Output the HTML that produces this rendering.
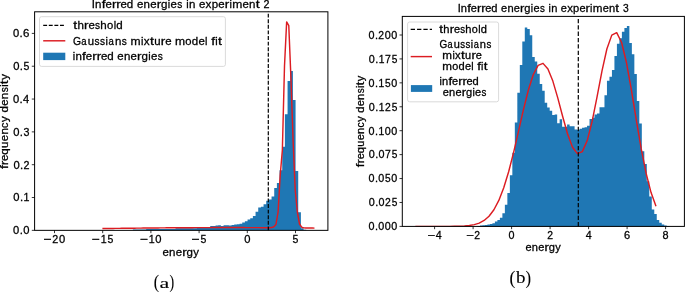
<!DOCTYPE html>
<html><head><meta charset="utf-8"><style>
html,body{margin:0;padding:0;background:#fff;width:685px;height:293px;overflow:hidden}
svg{display:block;will-change:transform}
text{font-family:'Liberation Sans',sans-serif}

</style></head><body>
<svg width="685" height="293" viewBox="0 0 685 293">
<path d="M132.88,230.35 L132.88,229.6 L135.55,229.6 L135.55,229.6 L138.21,229.6 L138.21,229.6 L140.88,229.6 L140.88,229.6 L143.55,229.6 L143.55,229.6 L146.22,229.6 L146.21,229 L148.88,229 L148.88,229 L151.55,229 L151.55,229 L154.22,229 L154.22,229 L156.88,229 L156.88,229 L159.55,229 L159.55,229 L162.22,229 L162.22,229 L164.88,229 L164.88,229 L167.55,229 L167.55,229 L170.22,229 L170.22,229 L172.88,229 L172.88,229 L175.55,229 L175.55,228.3 L178.22,228.3 L178.22,228.3 L180.89,228.3 L180.89,228.3 L183.55,228.3 L183.55,228.3 L186.22,228.3 L186.22,228.3 L188.89,228.3 L188.89,228.3 L191.55,228.3 L191.55,228.3 L194.22,228.3 L194.22,228.3 L196.89,228.3 L196.89,227.5 L199.55,227.5 L199.55,227.5 L202.22,227.5 L202.22,227.5 L204.89,227.5 L204.89,227.5 L207.56,227.5 L207.56,227 L210.22,227 L210.22,225.9 L212.89,225.9 L212.89,225.9 L215.56,225.9 L215.56,225.6 L218.22,225.6 L218.22,225.3 L220.89,225.3 L220.89,225.9 L223.56,225.9 L223.56,225.3 L226.22,225.3 L226.22,225.2 L228.89,225.2 L228.89,225.4 L231.56,225.4 L231.56,225 L234.23,225 L234.23,224.4 L236.89,224.4 L236.89,224.2 L239.56,224.2 L239.56,223.8 L242.23,223.8 L242.23,222.5 L244.89,222.5 L244.89,221.3 L247.56,221.3 L247.56,219.5 L250.23,219.5 L250.23,218.3 L252.89,218.3 L252.89,215.9 L255.56,215.9 L255.56,211.7 L258.23,211.7 L258.23,207.5 L260.9,207.5 L260.9,206.8 L263.56,206.8 L263.56,204.3 L266.23,204.3 L266.23,200.7 L268.9,200.7 L268.9,199.5 L271.56,199.5 L271.56,196.5 L274.23,196.5 L274.23,188 L276.9,188 L276.9,182.9 L279.56,182.9 L279.56,170.2 L282.23,170.2 L282.23,146.7 L284.9,146.7 L284.9,114.2 L287.57,114.2 L287.57,81 L290.23,81 L290.23,70.9 L292.9,70.9 L292.9,100 L295.57,100 L295.57,171.1 L298.23,171.1 L298.23,212.3 L300.9,212.3 L300.9,228.3 L303.57,228.3 L303.57,229.8 L306.23,229.8 L306.23,230.35 Z" fill="#1f77b4"/>
<clipPath id="cl"><rect x="34.6" y="11.8" width="293.3" height="218.55"/></clipPath>
<polyline clip-path="url(#cl)" points="102.4,228.56 104.54,228.53 106.68,228.5 108.83,228.48 110.97,228.45 113.11,228.42 115.25,228.4 117.4,228.37 119.54,228.35 121.68,228.32 123.82,228.29 125.97,228.27 128.11,228.24 130.25,228.22 132.39,228.19 134.54,228.17 136.68,228.14 138.82,228.12 140.96,228.1 143.11,228.07 145.25,228.05 147.39,228.03 149.53,228.01 151.68,227.98 153.82,227.96 155.96,227.94 158.1,227.92 160.24,227.9 162.39,227.88 164.53,227.86 166.67,227.84 168.81,227.83 170.96,227.81 173.1,227.79 175.24,227.77 177.38,227.76 179.53,227.74 181.67,227.73 183.81,227.71 185.95,227.7 188.1,227.69 190.24,227.68 192.38,227.66 194.52,227.65 196.67,227.64 198.81,227.63 200.95,227.62 203.09,227.62 205.24,227.61 207.38,227.6 209.52,227.6 211.66,227.59 213.8,227.59 215.95,227.58 218.09,227.58 220.23,227.58 222.37,227.57 224.52,227.57 226.66,227.57 228.8,227.57 230.94,227.57 233.09,227.58 235.23,227.58 237.37,227.58 239.51,227.58 241.66,227.59 243.8,227.59 245.94,227.6 248.08,227.61 250.23,227.61 252.37,227.62 254.51,227.63 256.65,227.64 258.8,227.65 260.94,227.66 263.08,227.67 265.22,227.69 267.36,227.7 269.51,227.69 271.65,227.56 273.79,226.8 275.93,224.5 278.08,212 280.22,175 282.36,150 284.5,66 286.65,21.9 288.79,25.7 290.93,78 293.07,140 295.22,190 297.36,212 299.5,224 301.64,227.2 303.79,227.9 305.93,228.01 308.07,228.04 310.21,228.07 312.36,228.09 314.5,228.12" fill="none" stroke="#dc1c22" stroke-width="1.45" stroke-linejoin="round" stroke-linecap="butt"/>
<line x1="268.3" y1="230.35" x2="268.3" y2="11.8" stroke="#000" stroke-width="1.2" stroke-dasharray="3.9 1.7"/>
<rect x="34.6" y="11.8" width="293.3" height="218.55" fill="none" stroke="#000" stroke-width="1.0"/>
<line x1="31.8" y1="230.35" x2="34.6" y2="230.35" stroke="#000" stroke-width="0.8"/>
<text x="13.08" y="234.3" font-size="11.08" textLength="6.23" lengthAdjust="spacingAndGlyphs" fill="#000" stroke="#000" stroke-width="0.28">0</text>
<text x="19.67" y="234.3" font-size="11.08" textLength="3.18" lengthAdjust="spacingAndGlyphs" fill="#000" stroke="#000" stroke-width="0.28">.</text>
<text x="23.2" y="234.3" font-size="11.08" textLength="6.23" lengthAdjust="spacingAndGlyphs" fill="#000" stroke="#000" stroke-width="0.28">0</text>
<line x1="31.8" y1="197.52" x2="34.6" y2="197.52" stroke="#000" stroke-width="0.8"/>
<text x="13.35" y="201.47" font-size="11.08" textLength="6.23" lengthAdjust="spacingAndGlyphs" fill="#000" stroke="#000" stroke-width="0.28">0</text>
<text x="19.93" y="201.47" font-size="11.08" textLength="3.18" lengthAdjust="spacingAndGlyphs" fill="#000" stroke="#000" stroke-width="0.28">.</text>
<text x="23.59" y="201.47" font-size="11.08" textLength="5.93" lengthAdjust="spacingAndGlyphs" fill="#000" stroke="#000" stroke-width="0.28">1</text>
<line x1="31.8" y1="164.7" x2="34.6" y2="164.7" stroke="#000" stroke-width="0.8"/>
<text x="13.46" y="168.65" font-size="11.08" textLength="6.23" lengthAdjust="spacingAndGlyphs" fill="#000" stroke="#000" stroke-width="0.28">0</text>
<text x="20.04" y="168.65" font-size="11.08" textLength="3.18" lengthAdjust="spacingAndGlyphs" fill="#000" stroke="#000" stroke-width="0.28">.</text>
<text x="23.56" y="168.65" font-size="11.08" textLength="5.99" lengthAdjust="spacingAndGlyphs" fill="#000" stroke="#000" stroke-width="0.28">2</text>
<line x1="31.8" y1="131.88" x2="34.6" y2="131.88" stroke="#000" stroke-width="0.8"/>
<text x="13.24" y="135.82" font-size="11.08" textLength="6.23" lengthAdjust="spacingAndGlyphs" fill="#000" stroke="#000" stroke-width="0.28">0</text>
<text x="19.83" y="135.82" font-size="11.08" textLength="3.18" lengthAdjust="spacingAndGlyphs" fill="#000" stroke="#000" stroke-width="0.28">.</text>
<text x="23.51" y="135.82" font-size="11.08" textLength="5.96" lengthAdjust="spacingAndGlyphs" fill="#000" stroke="#000" stroke-width="0.28">3</text>
<line x1="31.8" y1="99.05" x2="34.6" y2="99.05" stroke="#000" stroke-width="0.8"/>
<text x="12.98" y="103" font-size="11.08" textLength="6.23" lengthAdjust="spacingAndGlyphs" fill="#000" stroke="#000" stroke-width="0.28">0</text>
<text x="19.56" y="103" font-size="11.08" textLength="3.18" lengthAdjust="spacingAndGlyphs" fill="#000" stroke="#000" stroke-width="0.28">.</text>
<text x="23.13" y="103" font-size="11.08" textLength="6.19" lengthAdjust="spacingAndGlyphs" fill="#000" stroke="#000" stroke-width="0.28">4</text>
<line x1="31.8" y1="66.22" x2="34.6" y2="66.22" stroke="#000" stroke-width="0.8"/>
<text x="13.3" y="70.17" font-size="11.08" textLength="6.23" lengthAdjust="spacingAndGlyphs" fill="#000" stroke="#000" stroke-width="0.28">0</text>
<text x="19.88" y="70.17" font-size="11.08" textLength="3.18" lengthAdjust="spacingAndGlyphs" fill="#000" stroke="#000" stroke-width="0.28">.</text>
<text x="23.57" y="70.17" font-size="11.08" textLength="5.86" lengthAdjust="spacingAndGlyphs" fill="#000" stroke="#000" stroke-width="0.28">5</text>
<line x1="31.8" y1="33.4" x2="34.6" y2="33.4" stroke="#000" stroke-width="0.8"/>
<text x="13.06" y="37.35" font-size="11.08" textLength="6.23" lengthAdjust="spacingAndGlyphs" fill="#000" stroke="#000" stroke-width="0.28">0</text>
<text x="19.64" y="37.35" font-size="11.08" textLength="3.18" lengthAdjust="spacingAndGlyphs" fill="#000" stroke="#000" stroke-width="0.28">.</text>
<text x="23.1" y="37.35" font-size="11.08" textLength="6.41" lengthAdjust="spacingAndGlyphs" fill="#000" stroke="#000" stroke-width="0.28">6</text>
<line x1="54.5" y1="230.35" x2="54.5" y2="233.15" stroke="#000" stroke-width="0.8"/>
<text x="43.54" y="242.8" font-size="11.08" textLength="8.01" lengthAdjust="spacingAndGlyphs" fill="#000" stroke="#000" stroke-width="0.28">−</text>
<text x="52.22" y="242.8" font-size="11.08" textLength="5.99" lengthAdjust="spacingAndGlyphs" fill="#000" stroke="#000" stroke-width="0.28">2</text>
<text x="58.98" y="242.8" font-size="11.08" textLength="6.23" lengthAdjust="spacingAndGlyphs" fill="#000" stroke="#000" stroke-width="0.28">0</text>
<line x1="102.7" y1="230.35" x2="102.7" y2="233.15" stroke="#000" stroke-width="0.8"/>
<text x="91.84" y="242.8" font-size="11.08" textLength="8.01" lengthAdjust="spacingAndGlyphs" fill="#000" stroke="#000" stroke-width="0.28">−</text>
<text x="100.66" y="242.8" font-size="11.08" textLength="5.93" lengthAdjust="spacingAndGlyphs" fill="#000" stroke="#000" stroke-width="0.28">1</text>
<text x="107.44" y="242.8" font-size="11.08" textLength="5.86" lengthAdjust="spacingAndGlyphs" fill="#000" stroke="#000" stroke-width="0.28">5</text>
<line x1="150.9" y1="230.35" x2="150.9" y2="233.15" stroke="#000" stroke-width="0.8"/>
<text x="139.94" y="242.8" font-size="11.08" textLength="8.01" lengthAdjust="spacingAndGlyphs" fill="#000" stroke="#000" stroke-width="0.28">−</text>
<text x="148.76" y="242.8" font-size="11.08" textLength="5.93" lengthAdjust="spacingAndGlyphs" fill="#000" stroke="#000" stroke-width="0.28">1</text>
<text x="155.38" y="242.8" font-size="11.08" textLength="6.23" lengthAdjust="spacingAndGlyphs" fill="#000" stroke="#000" stroke-width="0.28">0</text>
<line x1="199.1" y1="230.35" x2="199.1" y2="233.15" stroke="#000" stroke-width="0.8"/>
<text x="191.61" y="242.8" font-size="11.08" textLength="8.01" lengthAdjust="spacingAndGlyphs" fill="#000" stroke="#000" stroke-width="0.28">−</text>
<text x="200.47" y="242.8" font-size="11.08" textLength="5.86" lengthAdjust="spacingAndGlyphs" fill="#000" stroke="#000" stroke-width="0.28">5</text>
<line x1="247.3" y1="230.35" x2="247.3" y2="233.15" stroke="#000" stroke-width="0.8"/>
<text x="244.18" y="242.8" font-size="11.08" textLength="6.23" lengthAdjust="spacingAndGlyphs" fill="#000" stroke="#000" stroke-width="0.28">0</text>
<line x1="295.5" y1="230.35" x2="295.5" y2="233.15" stroke="#000" stroke-width="0.8"/>
<text x="292.57" y="242.8" font-size="11.08" textLength="5.86" lengthAdjust="spacingAndGlyphs" fill="#000" stroke="#000" stroke-width="0.28">5</text>
<text x="91.81" y="7.7" font-size="11.08" textLength="3.18" lengthAdjust="spacingAndGlyphs" fill="#000" stroke="#000" stroke-width="0.28">I</text>
<text x="95.14" y="7.7" font-size="11.08" textLength="6.42" lengthAdjust="spacingAndGlyphs" fill="#000" stroke="#000" stroke-width="0.28">n</text>
<text x="101.71" y="7.7" font-size="11.08" textLength="3.86" lengthAdjust="spacingAndGlyphs" fill="#000" stroke="#000" stroke-width="0.28">f</text>
<text x="105.51" y="7.7" font-size="11.08" textLength="6.37" lengthAdjust="spacingAndGlyphs" fill="#000" stroke="#000" stroke-width="0.28">e</text>
<text x="111.97" y="7.7" font-size="11.08" textLength="4.52" lengthAdjust="spacingAndGlyphs" fill="#000" stroke="#000" stroke-width="0.28">r</text>
<text x="116.33" y="7.7" font-size="11.08" textLength="4.52" lengthAdjust="spacingAndGlyphs" fill="#000" stroke="#000" stroke-width="0.28">r</text>
<text x="120.56" y="7.7" font-size="11.08" textLength="6.37" lengthAdjust="spacingAndGlyphs" fill="#000" stroke="#000" stroke-width="0.28">e</text>
<text x="126.85" y="7.7" font-size="11.08" textLength="6.42" lengthAdjust="spacingAndGlyphs" fill="#000" stroke="#000" stroke-width="0.28">d</text>
<text x="136.95" y="7.7" font-size="11.08" textLength="6.37" lengthAdjust="spacingAndGlyphs" fill="#000" stroke="#000" stroke-width="0.28">e</text>
<text x="143.55" y="7.7" font-size="11.08" textLength="6.42" lengthAdjust="spacingAndGlyphs" fill="#000" stroke="#000" stroke-width="0.28">n</text>
<text x="150.19" y="7.7" font-size="11.08" textLength="6.37" lengthAdjust="spacingAndGlyphs" fill="#000" stroke="#000" stroke-width="0.28">e</text>
<text x="156.65" y="7.7" font-size="11.08" textLength="4.52" lengthAdjust="spacingAndGlyphs" fill="#000" stroke="#000" stroke-width="0.28">r</text>
<text x="161.06" y="7.7" font-size="11.08" textLength="6.42" lengthAdjust="spacingAndGlyphs" fill="#000" stroke="#000" stroke-width="0.28">g</text>
<text x="167.78" y="7.7" font-size="11.08" textLength="2.42" lengthAdjust="spacingAndGlyphs" fill="#000" stroke="#000" stroke-width="0.28">i</text>
<text x="170.55" y="7.7" font-size="11.08" textLength="6.37" lengthAdjust="spacingAndGlyphs" fill="#000" stroke="#000" stroke-width="0.28">e</text>
<text x="177.28" y="7.7" font-size="11.08" textLength="5.06" lengthAdjust="spacingAndGlyphs" fill="#000" stroke="#000" stroke-width="0.28">s</text>
<text x="186.14" y="7.7" font-size="11.08" textLength="2.42" lengthAdjust="spacingAndGlyphs" fill="#000" stroke="#000" stroke-width="0.28">i</text>
<text x="188.99" y="7.7" font-size="11.08" textLength="6.42" lengthAdjust="spacingAndGlyphs" fill="#000" stroke="#000" stroke-width="0.28">n</text>
<text x="199" y="7.7" font-size="11.08" textLength="6.37" lengthAdjust="spacingAndGlyphs" fill="#000" stroke="#000" stroke-width="0.28">e</text>
<text x="205.6" y="7.7" font-size="11.08" textLength="5.89" lengthAdjust="spacingAndGlyphs" fill="#000" stroke="#000" stroke-width="0.28">x</text>
<text x="211.72" y="7.7" font-size="11.08" textLength="6.42" lengthAdjust="spacingAndGlyphs" fill="#000" stroke="#000" stroke-width="0.28">p</text>
<text x="218.34" y="7.7" font-size="11.08" textLength="6.37" lengthAdjust="spacingAndGlyphs" fill="#000" stroke="#000" stroke-width="0.28">e</text>
<text x="224.8" y="7.7" font-size="11.08" textLength="4.52" lengthAdjust="spacingAndGlyphs" fill="#000" stroke="#000" stroke-width="0.28">r</text>
<text x="229.39" y="7.7" font-size="11.08" textLength="2.42" lengthAdjust="spacingAndGlyphs" fill="#000" stroke="#000" stroke-width="0.28">i</text>
<text x="232.2" y="7.7" font-size="11.08" textLength="10.09" lengthAdjust="spacingAndGlyphs" fill="#000" stroke="#000" stroke-width="0.28">m</text>
<text x="242.49" y="7.7" font-size="11.08" textLength="6.37" lengthAdjust="spacingAndGlyphs" fill="#000" stroke="#000" stroke-width="0.28">e</text>
<text x="249.09" y="7.7" font-size="11.08" textLength="6.42" lengthAdjust="spacingAndGlyphs" fill="#000" stroke="#000" stroke-width="0.28">n</text>
<text x="255.71" y="7.7" font-size="11.08" textLength="3.93" lengthAdjust="spacingAndGlyphs" fill="#000" stroke="#000" stroke-width="0.28">t</text>
<text x="263.39" y="7.7" font-size="11.08" textLength="5.99" lengthAdjust="spacingAndGlyphs" fill="#000" stroke="#000" stroke-width="0.28">2</text>
<text x="162.49" y="255.7" font-size="11.08" textLength="6.37" lengthAdjust="spacingAndGlyphs" fill="#000" stroke="#000" stroke-width="0.28">e</text>
<text x="169.09" y="255.7" font-size="11.08" textLength="6.42" lengthAdjust="spacingAndGlyphs" fill="#000" stroke="#000" stroke-width="0.28">n</text>
<text x="175.73" y="255.7" font-size="11.08" textLength="6.37" lengthAdjust="spacingAndGlyphs" fill="#000" stroke="#000" stroke-width="0.28">e</text>
<text x="182.2" y="255.7" font-size="11.08" textLength="4.52" lengthAdjust="spacingAndGlyphs" fill="#000" stroke="#000" stroke-width="0.28">r</text>
<text x="186.61" y="255.7" font-size="11.08" textLength="6.42" lengthAdjust="spacingAndGlyphs" fill="#000" stroke="#000" stroke-width="0.28">g</text>
<text x="193.35" y="255.7" font-size="11.08" textLength="5.7" lengthAdjust="spacingAndGlyphs" fill="#000" stroke="#000" stroke-width="0.28">y</text>
<g transform="translate(7.8,121.5) rotate(-90)">
<text x="-47.63" y="0" font-size="11.08" textLength="3.86" lengthAdjust="spacingAndGlyphs" fill="#000" stroke="#000" stroke-width="0.28">f</text>
<text x="-43.89" y="0" font-size="11.08" textLength="4.52" lengthAdjust="spacingAndGlyphs" fill="#000" stroke="#000" stroke-width="0.28">r</text>
<text x="-39.48" y="0" font-size="11.08" textLength="6.37" lengthAdjust="spacingAndGlyphs" fill="#000" stroke="#000" stroke-width="0.28">e</text>
<text x="-33.19" y="0" font-size="11.08" textLength="6.42" lengthAdjust="spacingAndGlyphs" fill="#000" stroke="#000" stroke-width="0.28">q</text>
<text x="-26.4" y="0" font-size="11.08" textLength="6.35" lengthAdjust="spacingAndGlyphs" fill="#000" stroke="#000" stroke-width="0.28">u</text>
<text x="-19.74" y="0" font-size="11.08" textLength="6.37" lengthAdjust="spacingAndGlyphs" fill="#000" stroke="#000" stroke-width="0.28">e</text>
<text x="-13.14" y="0" font-size="11.08" textLength="6.42" lengthAdjust="spacingAndGlyphs" fill="#000" stroke="#000" stroke-width="0.28">n</text>
<text x="-6.47" y="0" font-size="11.08" textLength="5.33" lengthAdjust="spacingAndGlyphs" fill="#000" stroke="#000" stroke-width="0.28">c</text>
<text x="-0.48" y="0" font-size="11.08" textLength="5.7" lengthAdjust="spacingAndGlyphs" fill="#000" stroke="#000" stroke-width="0.28">y</text>
<text x="8.96" y="0" font-size="11.08" textLength="6.42" lengthAdjust="spacingAndGlyphs" fill="#000" stroke="#000" stroke-width="0.28">d</text>
<text x="15.7" y="0" font-size="11.08" textLength="6.37" lengthAdjust="spacingAndGlyphs" fill="#000" stroke="#000" stroke-width="0.28">e</text>
<text x="22.3" y="0" font-size="11.08" textLength="6.42" lengthAdjust="spacingAndGlyphs" fill="#000" stroke="#000" stroke-width="0.28">n</text>
<text x="29.14" y="0" font-size="11.08" textLength="5.06" lengthAdjust="spacingAndGlyphs" fill="#000" stroke="#000" stroke-width="0.28">s</text>
<text x="34.63" y="0" font-size="11.08" textLength="2.42" lengthAdjust="spacingAndGlyphs" fill="#000" stroke="#000" stroke-width="0.28">i</text>
<text x="37.39" y="0" font-size="11.08" textLength="3.93" lengthAdjust="spacingAndGlyphs" fill="#000" stroke="#000" stroke-width="0.28">t</text>
<text x="41.75" y="0" font-size="11.08" textLength="5.7" lengthAdjust="spacingAndGlyphs" fill="#000" stroke="#000" stroke-width="0.28">y</text>
</g>
<rect x="39.5" y="16.7" width="185.9" height="49.7" rx="2" ry="2" fill="#fff" fill-opacity="0.8" stroke="#d0d0d0" stroke-width="0.8"/>
<line x1="43.2" y1="25.4" x2="65.3" y2="25.4" stroke="#000" stroke-width="1.2" stroke-dasharray="3.9 1.7"/>
<line x1="43.2" y1="40.8" x2="65.3" y2="40.8" stroke="#dc1c22" stroke-width="1.45"/>
<rect x="43.2" y="52.7" width="22.1" height="7.4" fill="#1f77b4"/>
<text x="73.19" y="29.2" font-size="11.08" textLength="3.93" lengthAdjust="spacingAndGlyphs" fill="#000" stroke="#000" stroke-width="0.28">t</text>
<text x="77.41" y="29.2" font-size="11.08" textLength="6.46" lengthAdjust="spacingAndGlyphs" fill="#000" stroke="#000" stroke-width="0.28">h</text>
<text x="84.02" y="29.2" font-size="11.08" textLength="4.52" lengthAdjust="spacingAndGlyphs" fill="#000" stroke="#000" stroke-width="0.28">r</text>
<text x="88.44" y="29.2" font-size="11.08" textLength="6.37" lengthAdjust="spacingAndGlyphs" fill="#000" stroke="#000" stroke-width="0.28">e</text>
<text x="94.93" y="29.2" font-size="11.08" textLength="5.06" lengthAdjust="spacingAndGlyphs" fill="#000" stroke="#000" stroke-width="0.28">s</text>
<text x="100.29" y="29.2" font-size="11.08" textLength="6.46" lengthAdjust="spacingAndGlyphs" fill="#000" stroke="#000" stroke-width="0.28">h</text>
<text x="106.97" y="29.2" font-size="11.08" textLength="6.27" lengthAdjust="spacingAndGlyphs" fill="#000" stroke="#000" stroke-width="0.28">o</text>
<text x="113.63" y="29.2" font-size="11.08" textLength="2.42" lengthAdjust="spacingAndGlyphs" fill="#000" stroke="#000" stroke-width="0.28">l</text>
<text x="116.39" y="29.2" font-size="11.08" textLength="6.42" lengthAdjust="spacingAndGlyphs" fill="#000" stroke="#000" stroke-width="0.28">d</text>
<text x="72.88" y="44.6" font-size="11.08" textLength="8.06" lengthAdjust="spacingAndGlyphs" fill="#000" stroke="#000" stroke-width="0.28">G</text>
<text x="81.26" y="44.6" font-size="11.08" textLength="5.32" lengthAdjust="spacingAndGlyphs" fill="#000" stroke="#000" stroke-width="0.28">a</text>
<text x="87.69" y="44.6" font-size="11.08" textLength="6.35" lengthAdjust="spacingAndGlyphs" fill="#000" stroke="#000" stroke-width="0.28">u</text>
<text x="94.55" y="44.6" font-size="11.08" textLength="5.06" lengthAdjust="spacingAndGlyphs" fill="#000" stroke="#000" stroke-width="0.28">s</text>
<text x="100.07" y="44.6" font-size="11.08" textLength="5.06" lengthAdjust="spacingAndGlyphs" fill="#000" stroke="#000" stroke-width="0.28">s</text>
<text x="105.56" y="44.6" font-size="11.08" textLength="2.42" lengthAdjust="spacingAndGlyphs" fill="#000" stroke="#000" stroke-width="0.28">i</text>
<text x="108.47" y="44.6" font-size="11.08" textLength="5.32" lengthAdjust="spacingAndGlyphs" fill="#000" stroke="#000" stroke-width="0.28">a</text>
<text x="114.91" y="44.6" font-size="11.08" textLength="6.42" lengthAdjust="spacingAndGlyphs" fill="#000" stroke="#000" stroke-width="0.28">n</text>
<text x="121.75" y="44.6" font-size="11.08" textLength="5.06" lengthAdjust="spacingAndGlyphs" fill="#000" stroke="#000" stroke-width="0.28">s</text>
<text x="130.48" y="44.6" font-size="11.08" textLength="10.09" lengthAdjust="spacingAndGlyphs" fill="#000" stroke="#000" stroke-width="0.28">m</text>
<text x="140.94" y="44.6" font-size="11.08" textLength="2.42" lengthAdjust="spacingAndGlyphs" fill="#000" stroke="#000" stroke-width="0.28">i</text>
<text x="143.78" y="44.6" font-size="11.08" textLength="5.89" lengthAdjust="spacingAndGlyphs" fill="#000" stroke="#000" stroke-width="0.28">x</text>
<text x="149.97" y="44.6" font-size="11.08" textLength="3.93" lengthAdjust="spacingAndGlyphs" fill="#000" stroke="#000" stroke-width="0.28">t</text>
<text x="154.2" y="44.6" font-size="11.08" textLength="6.35" lengthAdjust="spacingAndGlyphs" fill="#000" stroke="#000" stroke-width="0.28">u</text>
<text x="160.8" y="44.6" font-size="11.08" textLength="4.52" lengthAdjust="spacingAndGlyphs" fill="#000" stroke="#000" stroke-width="0.28">r</text>
<text x="165.22" y="44.6" font-size="11.08" textLength="6.37" lengthAdjust="spacingAndGlyphs" fill="#000" stroke="#000" stroke-width="0.28">e</text>
<text x="174.91" y="44.6" font-size="11.08" textLength="10.09" lengthAdjust="spacingAndGlyphs" fill="#000" stroke="#000" stroke-width="0.28">m</text>
<text x="185.21" y="44.6" font-size="11.08" textLength="6.27" lengthAdjust="spacingAndGlyphs" fill="#000" stroke="#000" stroke-width="0.28">o</text>
<text x="191.68" y="44.6" font-size="11.08" textLength="6.42" lengthAdjust="spacingAndGlyphs" fill="#000" stroke="#000" stroke-width="0.28">d</text>
<text x="198.41" y="44.6" font-size="11.08" textLength="6.37" lengthAdjust="spacingAndGlyphs" fill="#000" stroke="#000" stroke-width="0.28">e</text>
<text x="205.11" y="44.6" font-size="11.08" textLength="2.42" lengthAdjust="spacingAndGlyphs" fill="#000" stroke="#000" stroke-width="0.28">l</text>
<text x="211.18" y="44.6" font-size="11.08" textLength="3.86" lengthAdjust="spacingAndGlyphs" fill="#000" stroke="#000" stroke-width="0.28">f</text>
<text x="215.16" y="44.6" font-size="11.08" textLength="2.42" lengthAdjust="spacingAndGlyphs" fill="#000" stroke="#000" stroke-width="0.28">i</text>
<text x="217.91" y="44.6" font-size="11.08" textLength="3.93" lengthAdjust="spacingAndGlyphs" fill="#000" stroke="#000" stroke-width="0.28">t</text>
<text x="72.66" y="59.6" font-size="11.08" textLength="2.42" lengthAdjust="spacingAndGlyphs" fill="#000" stroke="#000" stroke-width="0.28">i</text>
<text x="75.51" y="59.6" font-size="11.08" textLength="6.42" lengthAdjust="spacingAndGlyphs" fill="#000" stroke="#000" stroke-width="0.28">n</text>
<text x="82.09" y="59.6" font-size="11.08" textLength="3.86" lengthAdjust="spacingAndGlyphs" fill="#000" stroke="#000" stroke-width="0.28">f</text>
<text x="85.88" y="59.6" font-size="11.08" textLength="6.37" lengthAdjust="spacingAndGlyphs" fill="#000" stroke="#000" stroke-width="0.28">e</text>
<text x="92.35" y="59.6" font-size="11.08" textLength="4.52" lengthAdjust="spacingAndGlyphs" fill="#000" stroke="#000" stroke-width="0.28">r</text>
<text x="96.71" y="59.6" font-size="11.08" textLength="4.52" lengthAdjust="spacingAndGlyphs" fill="#000" stroke="#000" stroke-width="0.28">r</text>
<text x="100.94" y="59.6" font-size="11.08" textLength="6.37" lengthAdjust="spacingAndGlyphs" fill="#000" stroke="#000" stroke-width="0.28">e</text>
<text x="107.22" y="59.6" font-size="11.08" textLength="6.42" lengthAdjust="spacingAndGlyphs" fill="#000" stroke="#000" stroke-width="0.28">d</text>
<text x="117.32" y="59.6" font-size="11.08" textLength="6.37" lengthAdjust="spacingAndGlyphs" fill="#000" stroke="#000" stroke-width="0.28">e</text>
<text x="123.92" y="59.6" font-size="11.08" textLength="6.42" lengthAdjust="spacingAndGlyphs" fill="#000" stroke="#000" stroke-width="0.28">n</text>
<text x="130.56" y="59.6" font-size="11.08" textLength="6.37" lengthAdjust="spacingAndGlyphs" fill="#000" stroke="#000" stroke-width="0.28">e</text>
<text x="137.03" y="59.6" font-size="11.08" textLength="4.52" lengthAdjust="spacingAndGlyphs" fill="#000" stroke="#000" stroke-width="0.28">r</text>
<text x="141.44" y="59.6" font-size="11.08" textLength="6.42" lengthAdjust="spacingAndGlyphs" fill="#000" stroke="#000" stroke-width="0.28">g</text>
<text x="148.16" y="59.6" font-size="11.08" textLength="2.42" lengthAdjust="spacingAndGlyphs" fill="#000" stroke="#000" stroke-width="0.28">i</text>
<text x="150.93" y="59.6" font-size="11.08" textLength="6.37" lengthAdjust="spacingAndGlyphs" fill="#000" stroke="#000" stroke-width="0.28">e</text>
<text x="157.66" y="59.6" font-size="11.08" textLength="5.06" lengthAdjust="spacingAndGlyphs" fill="#000" stroke="#000" stroke-width="0.28">s</text>
<path d="M477.48,226.4 L477.48,226 L479.97,226 L479.97,225.6 L482.46,225.6 L482.46,225.3 L484.95,225.3 L484.95,224.9 L487.44,224.9 L487.44,224.4 L489.93,224.4 L489.93,223.9 L492.42,223.9 L492.42,223.2 L494.91,223.2 L494.91,221.5 L497.4,221.5 L497.4,220.1 L499.89,220.1 L499.89,217.7 L502.38,217.7 L502.38,213.2 L504.87,213.2 L504.87,204.7 L507.36,204.7 L507.36,193 L509.85,193 L509.85,175.3 L512.34,175.3 L512.34,152.7 L514.83,152.7 L514.83,122.6 L517.32,122.6 L517.32,92.7 L519.81,92.7 L519.81,64.9 L522.3,64.9 L522.3,41.4 L524.79,41.4 L524.79,27.6 L527.28,27.6 L527.28,29.1 L529.77,29.1 L529.77,35.3 L532.26,35.3 L532.26,57 L534.75,57 L534.75,61.6 L537.24,61.6 L537.24,73.7 L539.73,73.7 L539.73,83.9 L542.22,83.9 L542.22,90.8 L544.71,90.8 L544.71,102.8 L547.2,102.8 L547.2,107.5 L549.69,107.5 L549.69,110.7 L552.18,110.7 L552.18,115 L554.67,115 L554.67,114.4 L557.16,114.4 L557.16,123.2 L559.65,123.2 L559.65,119.2 L562.14,119.2 L562.14,126.7 L564.63,126.7 L564.63,126.7 L567.12,126.7 L567.12,124.4 L569.61,124.4 L569.61,126.3 L572.1,126.3 L572.1,126.3 L574.59,126.3 L574.59,129.6 L577.08,129.6 L577.08,129.7 L579.57,129.7 L579.57,128.7 L582.06,128.7 L582.06,127.8 L584.55,127.8 L584.55,127.3 L587.04,127.3 L587.04,125.7 L589.53,125.7 L589.53,119.1 L592.02,119.1 L592.02,117.7 L594.51,117.7 L594.51,114.4 L597,114.4 L597,113.4 L599.49,113.4 L599.49,107.3 L601.98,107.3 L601.98,107.3 L604.47,107.3 L604.47,95.2 L606.96,95.2 L606.96,80.8 L609.45,80.8 L609.45,76.7 L611.94,76.7 L611.94,70 L614.43,70 L614.43,56.1 L616.92,56.1 L616.92,43.8 L619.41,43.8 L619.41,38.3 L621.9,38.3 L621.9,31.8 L624.39,31.8 L624.39,28.1 L626.88,28.1 L626.88,26 L629.37,26 L629.37,43.1 L631.86,43.1 L631.86,54.2 L634.35,54.2 L634.35,73.9 L636.84,73.9 L636.84,101 L639.33,101 L639.33,123.5 L641.82,123.5 L641.82,151.3 L644.31,151.3 L644.31,164 L646.8,164 L646.8,181.2 L649.29,181.2 L649.29,196.5 L651.78,196.5 L651.78,209.5 L654.27,209.5 L654.27,214.1 L656.76,214.1 L656.76,219.9 L659.25,219.9 L659.25,222.8 L661.74,222.8 L661.74,224.5 L664.23,224.5 L664.23,225.4 L666.72,225.4 L666.72,226 L669.21,226 L669.21,226.4 Z" fill="#1f77b4"/>
<clipPath id="cr"><rect x="402.3" y="16.4" width="282.1" height="210"/></clipPath>
<polyline clip-path="url(#cr)" points="415.35,226.4 420.26,226.4 425.17,226.4 430.08,226.4 434.99,226.4 439.9,226.39 444.81,226.39 449.73,226.36 454.64,226.32 459.55,226.21 464.46,225.98 469.37,225.52 474.28,224.65 479.19,223.1 484.1,220.46 489.01,216.2 493.92,209.72 498.83,200.4 503.74,187.77 508.65,171.7 513.56,152.56 518.48,131.41 523.39,109.92 528.3,90.27 533.21,74.76 538.12,65.37 543.03,63.36 547.94,68.92 552.85,81.09 557.76,97.85 562.67,116.49 567.58,133.94 572.49,147.19 577.4,153.67 582.31,151.65 587.23,140.56 592.14,121.42 597.05,96.88 601.96,71.09 606.87,48.98 611.78,35.13 616.69,32.69 621.6,42.46 626.51,62.79 631.42,90.15 636.33,120.18 641.24,148.89 646.15,173.46 651.06,192.56 655.98,206.15" fill="none" stroke="#dc1c22" stroke-width="1.45" stroke-linejoin="round"/>
<line x1="578.3" y1="226.4" x2="578.3" y2="16.4" stroke="#000" stroke-width="1.2" stroke-dasharray="4.3 2.05"/>
<rect x="402.3" y="16.4" width="282.1" height="210" fill="none" stroke="#000" stroke-width="1.0"/>
<line x1="399.5" y1="226.4" x2="402.3" y2="226.4" stroke="#000" stroke-width="0.8"/>
<text x="368.61" y="230.2" font-size="10.66" textLength="6" lengthAdjust="spacingAndGlyphs" fill="#000" stroke="#000" stroke-width="0.28">0</text>
<text x="374.94" y="230.2" font-size="10.66" textLength="3.06" lengthAdjust="spacingAndGlyphs" fill="#000" stroke="#000" stroke-width="0.28">.</text>
<text x="378.34" y="230.2" font-size="10.66" textLength="6" lengthAdjust="spacingAndGlyphs" fill="#000" stroke="#000" stroke-width="0.28">0</text>
<text x="384.83" y="230.2" font-size="10.66" textLength="6" lengthAdjust="spacingAndGlyphs" fill="#000" stroke="#000" stroke-width="0.28">0</text>
<text x="391.32" y="230.2" font-size="10.66" textLength="6" lengthAdjust="spacingAndGlyphs" fill="#000" stroke="#000" stroke-width="0.28">0</text>
<line x1="399.5" y1="202.47" x2="402.3" y2="202.47" stroke="#000" stroke-width="0.8"/>
<text x="368.81" y="206.28" font-size="10.66" textLength="6" lengthAdjust="spacingAndGlyphs" fill="#000" stroke="#000" stroke-width="0.28">0</text>
<text x="375.15" y="206.28" font-size="10.66" textLength="3.06" lengthAdjust="spacingAndGlyphs" fill="#000" stroke="#000" stroke-width="0.28">.</text>
<text x="378.54" y="206.28" font-size="10.66" textLength="6" lengthAdjust="spacingAndGlyphs" fill="#000" stroke="#000" stroke-width="0.28">0</text>
<text x="385.02" y="206.28" font-size="10.66" textLength="5.77" lengthAdjust="spacingAndGlyphs" fill="#000" stroke="#000" stroke-width="0.28">2</text>
<text x="391.67" y="206.28" font-size="10.66" textLength="5.64" lengthAdjust="spacingAndGlyphs" fill="#000" stroke="#000" stroke-width="0.28">5</text>
<line x1="399.5" y1="178.55" x2="402.3" y2="178.55" stroke="#000" stroke-width="0.8"/>
<text x="368.61" y="182.35" font-size="10.66" textLength="6" lengthAdjust="spacingAndGlyphs" fill="#000" stroke="#000" stroke-width="0.28">0</text>
<text x="374.94" y="182.35" font-size="10.66" textLength="3.06" lengthAdjust="spacingAndGlyphs" fill="#000" stroke="#000" stroke-width="0.28">.</text>
<text x="378.34" y="182.35" font-size="10.66" textLength="6" lengthAdjust="spacingAndGlyphs" fill="#000" stroke="#000" stroke-width="0.28">0</text>
<text x="384.98" y="182.35" font-size="10.66" textLength="5.64" lengthAdjust="spacingAndGlyphs" fill="#000" stroke="#000" stroke-width="0.28">5</text>
<text x="391.32" y="182.35" font-size="10.66" textLength="6" lengthAdjust="spacingAndGlyphs" fill="#000" stroke="#000" stroke-width="0.28">0</text>
<line x1="399.5" y1="154.62" x2="402.3" y2="154.62" stroke="#000" stroke-width="0.8"/>
<text x="368.81" y="158.43" font-size="10.66" textLength="6" lengthAdjust="spacingAndGlyphs" fill="#000" stroke="#000" stroke-width="0.28">0</text>
<text x="375.15" y="158.43" font-size="10.66" textLength="3.06" lengthAdjust="spacingAndGlyphs" fill="#000" stroke="#000" stroke-width="0.28">.</text>
<text x="378.54" y="158.43" font-size="10.66" textLength="6" lengthAdjust="spacingAndGlyphs" fill="#000" stroke="#000" stroke-width="0.28">0</text>
<text x="385.09" y="158.43" font-size="10.66" textLength="5.86" lengthAdjust="spacingAndGlyphs" fill="#000" stroke="#000" stroke-width="0.28">7</text>
<text x="391.67" y="158.43" font-size="10.66" textLength="5.64" lengthAdjust="spacingAndGlyphs" fill="#000" stroke="#000" stroke-width="0.28">5</text>
<line x1="399.5" y1="130.7" x2="402.3" y2="130.7" stroke="#000" stroke-width="0.8"/>
<text x="368.61" y="134.5" font-size="10.66" textLength="6" lengthAdjust="spacingAndGlyphs" fill="#000" stroke="#000" stroke-width="0.28">0</text>
<text x="374.94" y="134.5" font-size="10.66" textLength="3.06" lengthAdjust="spacingAndGlyphs" fill="#000" stroke="#000" stroke-width="0.28">.</text>
<text x="378.46" y="134.5" font-size="10.66" textLength="5.71" lengthAdjust="spacingAndGlyphs" fill="#000" stroke="#000" stroke-width="0.28">1</text>
<text x="384.83" y="134.5" font-size="10.66" textLength="6" lengthAdjust="spacingAndGlyphs" fill="#000" stroke="#000" stroke-width="0.28">0</text>
<text x="391.32" y="134.5" font-size="10.66" textLength="6" lengthAdjust="spacingAndGlyphs" fill="#000" stroke="#000" stroke-width="0.28">0</text>
<line x1="399.5" y1="106.78" x2="402.3" y2="106.78" stroke="#000" stroke-width="0.8"/>
<text x="368.81" y="110.58" font-size="10.66" textLength="6" lengthAdjust="spacingAndGlyphs" fill="#000" stroke="#000" stroke-width="0.28">0</text>
<text x="375.15" y="110.58" font-size="10.66" textLength="3.06" lengthAdjust="spacingAndGlyphs" fill="#000" stroke="#000" stroke-width="0.28">.</text>
<text x="378.66" y="110.58" font-size="10.66" textLength="5.71" lengthAdjust="spacingAndGlyphs" fill="#000" stroke="#000" stroke-width="0.28">1</text>
<text x="385.02" y="110.58" font-size="10.66" textLength="5.77" lengthAdjust="spacingAndGlyphs" fill="#000" stroke="#000" stroke-width="0.28">2</text>
<text x="391.67" y="110.58" font-size="10.66" textLength="5.64" lengthAdjust="spacingAndGlyphs" fill="#000" stroke="#000" stroke-width="0.28">5</text>
<line x1="399.5" y1="82.85" x2="402.3" y2="82.85" stroke="#000" stroke-width="0.8"/>
<text x="368.61" y="86.65" font-size="10.66" textLength="6" lengthAdjust="spacingAndGlyphs" fill="#000" stroke="#000" stroke-width="0.28">0</text>
<text x="374.94" y="86.65" font-size="10.66" textLength="3.06" lengthAdjust="spacingAndGlyphs" fill="#000" stroke="#000" stroke-width="0.28">.</text>
<text x="378.46" y="86.65" font-size="10.66" textLength="5.71" lengthAdjust="spacingAndGlyphs" fill="#000" stroke="#000" stroke-width="0.28">1</text>
<text x="384.98" y="86.65" font-size="10.66" textLength="5.64" lengthAdjust="spacingAndGlyphs" fill="#000" stroke="#000" stroke-width="0.28">5</text>
<text x="391.32" y="86.65" font-size="10.66" textLength="6" lengthAdjust="spacingAndGlyphs" fill="#000" stroke="#000" stroke-width="0.28">0</text>
<line x1="399.5" y1="58.92" x2="402.3" y2="58.92" stroke="#000" stroke-width="0.8"/>
<text x="368.81" y="62.72" font-size="10.66" textLength="6" lengthAdjust="spacingAndGlyphs" fill="#000" stroke="#000" stroke-width="0.28">0</text>
<text x="375.15" y="62.72" font-size="10.66" textLength="3.06" lengthAdjust="spacingAndGlyphs" fill="#000" stroke="#000" stroke-width="0.28">.</text>
<text x="378.66" y="62.72" font-size="10.66" textLength="5.71" lengthAdjust="spacingAndGlyphs" fill="#000" stroke="#000" stroke-width="0.28">1</text>
<text x="385.09" y="62.72" font-size="10.66" textLength="5.86" lengthAdjust="spacingAndGlyphs" fill="#000" stroke="#000" stroke-width="0.28">7</text>
<text x="391.67" y="62.72" font-size="10.66" textLength="5.64" lengthAdjust="spacingAndGlyphs" fill="#000" stroke="#000" stroke-width="0.28">5</text>
<line x1="399.5" y1="35" x2="402.3" y2="35" stroke="#000" stroke-width="0.8"/>
<text x="368.61" y="38.8" font-size="10.66" textLength="6" lengthAdjust="spacingAndGlyphs" fill="#000" stroke="#000" stroke-width="0.28">0</text>
<text x="374.94" y="38.8" font-size="10.66" textLength="3.06" lengthAdjust="spacingAndGlyphs" fill="#000" stroke="#000" stroke-width="0.28">.</text>
<text x="378.33" y="38.8" font-size="10.66" textLength="5.77" lengthAdjust="spacingAndGlyphs" fill="#000" stroke="#000" stroke-width="0.28">2</text>
<text x="384.83" y="38.8" font-size="10.66" textLength="6" lengthAdjust="spacingAndGlyphs" fill="#000" stroke="#000" stroke-width="0.28">0</text>
<text x="391.32" y="38.8" font-size="10.66" textLength="6" lengthAdjust="spacingAndGlyphs" fill="#000" stroke="#000" stroke-width="0.28">0</text>
<line x1="434.6" y1="226.4" x2="434.6" y2="229.2" stroke="#000" stroke-width="0.8"/>
<text x="427.24" y="238.6" font-size="10.66" textLength="7.71" lengthAdjust="spacingAndGlyphs" fill="#000" stroke="#000" stroke-width="0.28">−</text>
<text x="435.65" y="238.6" font-size="10.66" textLength="5.95" lengthAdjust="spacingAndGlyphs" fill="#000" stroke="#000" stroke-width="0.28">4</text>
<line x1="473.1" y1="226.4" x2="473.1" y2="229.2" stroke="#000" stroke-width="0.8"/>
<text x="465.97" y="238.6" font-size="10.66" textLength="7.71" lengthAdjust="spacingAndGlyphs" fill="#000" stroke="#000" stroke-width="0.28">−</text>
<text x="474.33" y="238.6" font-size="10.66" textLength="5.77" lengthAdjust="spacingAndGlyphs" fill="#000" stroke="#000" stroke-width="0.28">2</text>
<line x1="511.6" y1="226.4" x2="511.6" y2="229.2" stroke="#000" stroke-width="0.8"/>
<text x="508.59" y="238.6" font-size="10.66" textLength="6" lengthAdjust="spacingAndGlyphs" fill="#000" stroke="#000" stroke-width="0.28">0</text>
<line x1="550.1" y1="226.4" x2="550.1" y2="229.2" stroke="#000" stroke-width="0.8"/>
<text x="547.22" y="238.6" font-size="10.66" textLength="5.77" lengthAdjust="spacingAndGlyphs" fill="#000" stroke="#000" stroke-width="0.28">2</text>
<line x1="588.6" y1="226.4" x2="588.6" y2="229.2" stroke="#000" stroke-width="0.8"/>
<text x="585.66" y="238.6" font-size="10.66" textLength="5.95" lengthAdjust="spacingAndGlyphs" fill="#000" stroke="#000" stroke-width="0.28">4</text>
<line x1="627.1" y1="226.4" x2="627.1" y2="229.2" stroke="#000" stroke-width="0.8"/>
<text x="623.98" y="238.6" font-size="10.66" textLength="6.16" lengthAdjust="spacingAndGlyphs" fill="#000" stroke="#000" stroke-width="0.28">6</text>
<line x1="665.6" y1="226.4" x2="665.6" y2="229.2" stroke="#000" stroke-width="0.8"/>
<text x="662.59" y="238.6" font-size="10.66" textLength="6.04" lengthAdjust="spacingAndGlyphs" fill="#000" stroke="#000" stroke-width="0.28">8</text>
<text x="457.67" y="12.3" font-size="10.66" textLength="3.06" lengthAdjust="spacingAndGlyphs" fill="#000" stroke="#000" stroke-width="0.28">I</text>
<text x="460.87" y="12.3" font-size="10.66" textLength="6.18" lengthAdjust="spacingAndGlyphs" fill="#000" stroke="#000" stroke-width="0.28">n</text>
<text x="467.2" y="12.3" font-size="10.66" textLength="3.72" lengthAdjust="spacingAndGlyphs" fill="#000" stroke="#000" stroke-width="0.28">f</text>
<text x="470.85" y="12.3" font-size="10.66" textLength="6.13" lengthAdjust="spacingAndGlyphs" fill="#000" stroke="#000" stroke-width="0.28">e</text>
<text x="477.07" y="12.3" font-size="10.66" textLength="4.35" lengthAdjust="spacingAndGlyphs" fill="#000" stroke="#000" stroke-width="0.28">r</text>
<text x="481.26" y="12.3" font-size="10.66" textLength="4.35" lengthAdjust="spacingAndGlyphs" fill="#000" stroke="#000" stroke-width="0.28">r</text>
<text x="485.33" y="12.3" font-size="10.66" textLength="6.13" lengthAdjust="spacingAndGlyphs" fill="#000" stroke="#000" stroke-width="0.28">e</text>
<text x="491.38" y="12.3" font-size="10.66" textLength="6.18" lengthAdjust="spacingAndGlyphs" fill="#000" stroke="#000" stroke-width="0.28">d</text>
<text x="501.1" y="12.3" font-size="10.66" textLength="6.13" lengthAdjust="spacingAndGlyphs" fill="#000" stroke="#000" stroke-width="0.28">e</text>
<text x="507.45" y="12.3" font-size="10.66" textLength="6.18" lengthAdjust="spacingAndGlyphs" fill="#000" stroke="#000" stroke-width="0.28">n</text>
<text x="513.84" y="12.3" font-size="10.66" textLength="6.13" lengthAdjust="spacingAndGlyphs" fill="#000" stroke="#000" stroke-width="0.28">e</text>
<text x="520.06" y="12.3" font-size="10.66" textLength="4.35" lengthAdjust="spacingAndGlyphs" fill="#000" stroke="#000" stroke-width="0.28">r</text>
<text x="524.31" y="12.3" font-size="10.66" textLength="6.18" lengthAdjust="spacingAndGlyphs" fill="#000" stroke="#000" stroke-width="0.28">g</text>
<text x="530.78" y="12.3" font-size="10.66" textLength="2.33" lengthAdjust="spacingAndGlyphs" fill="#000" stroke="#000" stroke-width="0.28">i</text>
<text x="533.44" y="12.3" font-size="10.66" textLength="6.13" lengthAdjust="spacingAndGlyphs" fill="#000" stroke="#000" stroke-width="0.28">e</text>
<text x="539.92" y="12.3" font-size="10.66" textLength="4.87" lengthAdjust="spacingAndGlyphs" fill="#000" stroke="#000" stroke-width="0.28">s</text>
<text x="548.44" y="12.3" font-size="10.66" textLength="2.33" lengthAdjust="spacingAndGlyphs" fill="#000" stroke="#000" stroke-width="0.28">i</text>
<text x="551.18" y="12.3" font-size="10.66" textLength="6.18" lengthAdjust="spacingAndGlyphs" fill="#000" stroke="#000" stroke-width="0.28">n</text>
<text x="560.81" y="12.3" font-size="10.66" textLength="6.13" lengthAdjust="spacingAndGlyphs" fill="#000" stroke="#000" stroke-width="0.28">e</text>
<text x="567.16" y="12.3" font-size="10.66" textLength="5.66" lengthAdjust="spacingAndGlyphs" fill="#000" stroke="#000" stroke-width="0.28">x</text>
<text x="573.05" y="12.3" font-size="10.66" textLength="6.18" lengthAdjust="spacingAndGlyphs" fill="#000" stroke="#000" stroke-width="0.28">p</text>
<text x="579.42" y="12.3" font-size="10.66" textLength="6.13" lengthAdjust="spacingAndGlyphs" fill="#000" stroke="#000" stroke-width="0.28">e</text>
<text x="585.64" y="12.3" font-size="10.66" textLength="4.35" lengthAdjust="spacingAndGlyphs" fill="#000" stroke="#000" stroke-width="0.28">r</text>
<text x="590.06" y="12.3" font-size="10.66" textLength="2.33" lengthAdjust="spacingAndGlyphs" fill="#000" stroke="#000" stroke-width="0.28">i</text>
<text x="592.76" y="12.3" font-size="10.66" textLength="9.71" lengthAdjust="spacingAndGlyphs" fill="#000" stroke="#000" stroke-width="0.28">m</text>
<text x="602.66" y="12.3" font-size="10.66" textLength="6.13" lengthAdjust="spacingAndGlyphs" fill="#000" stroke="#000" stroke-width="0.28">e</text>
<text x="609.01" y="12.3" font-size="10.66" textLength="6.18" lengthAdjust="spacingAndGlyphs" fill="#000" stroke="#000" stroke-width="0.28">n</text>
<text x="615.38" y="12.3" font-size="10.66" textLength="3.78" lengthAdjust="spacingAndGlyphs" fill="#000" stroke="#000" stroke-width="0.28">t</text>
<text x="622.93" y="12.3" font-size="10.66" textLength="5.73" lengthAdjust="spacingAndGlyphs" fill="#000" stroke="#000" stroke-width="0.28">3</text>
<text x="525.49" y="251" font-size="10.66" textLength="6.13" lengthAdjust="spacingAndGlyphs" fill="#000" stroke="#000" stroke-width="0.28">e</text>
<text x="531.84" y="251" font-size="10.66" textLength="6.18" lengthAdjust="spacingAndGlyphs" fill="#000" stroke="#000" stroke-width="0.28">n</text>
<text x="538.23" y="251" font-size="10.66" textLength="6.13" lengthAdjust="spacingAndGlyphs" fill="#000" stroke="#000" stroke-width="0.28">e</text>
<text x="544.45" y="251" font-size="10.66" textLength="4.35" lengthAdjust="spacingAndGlyphs" fill="#000" stroke="#000" stroke-width="0.28">r</text>
<text x="548.7" y="251" font-size="10.66" textLength="6.18" lengthAdjust="spacingAndGlyphs" fill="#000" stroke="#000" stroke-width="0.28">g</text>
<text x="555.18" y="251" font-size="10.66" textLength="5.49" lengthAdjust="spacingAndGlyphs" fill="#000" stroke="#000" stroke-width="0.28">y</text>
<g transform="translate(363.7,121.35) rotate(-90)">
<text x="-45.84" y="0" font-size="10.66" textLength="3.72" lengthAdjust="spacingAndGlyphs" fill="#000" stroke="#000" stroke-width="0.28">f</text>
<text x="-42.24" y="0" font-size="10.66" textLength="4.35" lengthAdjust="spacingAndGlyphs" fill="#000" stroke="#000" stroke-width="0.28">r</text>
<text x="-37.99" y="0" font-size="10.66" textLength="6.13" lengthAdjust="spacingAndGlyphs" fill="#000" stroke="#000" stroke-width="0.28">e</text>
<text x="-31.94" y="0" font-size="10.66" textLength="6.18" lengthAdjust="spacingAndGlyphs" fill="#000" stroke="#000" stroke-width="0.28">q</text>
<text x="-25.4" y="0" font-size="10.66" textLength="6.11" lengthAdjust="spacingAndGlyphs" fill="#000" stroke="#000" stroke-width="0.28">u</text>
<text x="-19" y="0" font-size="10.66" textLength="6.13" lengthAdjust="spacingAndGlyphs" fill="#000" stroke="#000" stroke-width="0.28">e</text>
<text x="-12.65" y="0" font-size="10.66" textLength="6.18" lengthAdjust="spacingAndGlyphs" fill="#000" stroke="#000" stroke-width="0.28">n</text>
<text x="-6.23" y="0" font-size="10.66" textLength="5.13" lengthAdjust="spacingAndGlyphs" fill="#000" stroke="#000" stroke-width="0.28">c</text>
<text x="-0.46" y="0" font-size="10.66" textLength="5.49" lengthAdjust="spacingAndGlyphs" fill="#000" stroke="#000" stroke-width="0.28">y</text>
<text x="8.63" y="0" font-size="10.66" textLength="6.18" lengthAdjust="spacingAndGlyphs" fill="#000" stroke="#000" stroke-width="0.28">d</text>
<text x="15.1" y="0" font-size="10.66" textLength="6.13" lengthAdjust="spacingAndGlyphs" fill="#000" stroke="#000" stroke-width="0.28">e</text>
<text x="21.45" y="0" font-size="10.66" textLength="6.18" lengthAdjust="spacingAndGlyphs" fill="#000" stroke="#000" stroke-width="0.28">n</text>
<text x="28.04" y="0" font-size="10.66" textLength="4.87" lengthAdjust="spacingAndGlyphs" fill="#000" stroke="#000" stroke-width="0.28">s</text>
<text x="33.33" y="0" font-size="10.66" textLength="2.33" lengthAdjust="spacingAndGlyphs" fill="#000" stroke="#000" stroke-width="0.28">i</text>
<text x="35.98" y="0" font-size="10.66" textLength="3.78" lengthAdjust="spacingAndGlyphs" fill="#000" stroke="#000" stroke-width="0.28">t</text>
<text x="40.18" y="0" font-size="10.66" textLength="5.49" lengthAdjust="spacingAndGlyphs" fill="#000" stroke="#000" stroke-width="0.28">y</text>
</g>
<rect x="407.6" y="22.0" width="91" height="79.8" rx="2" ry="2" fill="#fff" fill-opacity="0.8" stroke="#d0d0d0" stroke-width="0.8"/>
<line x1="410.7" y1="29.3" x2="432" y2="29.3" stroke="#000" stroke-width="1.2" stroke-dasharray="4.3 2.05"/>
<line x1="410.7" y1="56.6" x2="432" y2="56.6" stroke="#dc1c22" stroke-width="1.45"/>
<rect x="410.9" y="85.1" width="21.3" height="6.8" fill="#1f77b4"/>
<text x="439.3" y="33.1" font-size="10.66" textLength="3.78" lengthAdjust="spacingAndGlyphs" fill="#000" stroke="#000" stroke-width="0.28">t</text>
<text x="443.36" y="33.1" font-size="10.66" textLength="6.21" lengthAdjust="spacingAndGlyphs" fill="#000" stroke="#000" stroke-width="0.28">h</text>
<text x="449.72" y="33.1" font-size="10.66" textLength="4.35" lengthAdjust="spacingAndGlyphs" fill="#000" stroke="#000" stroke-width="0.28">r</text>
<text x="453.97" y="33.1" font-size="10.66" textLength="6.13" lengthAdjust="spacingAndGlyphs" fill="#000" stroke="#000" stroke-width="0.28">e</text>
<text x="460.22" y="33.1" font-size="10.66" textLength="4.87" lengthAdjust="spacingAndGlyphs" fill="#000" stroke="#000" stroke-width="0.28">s</text>
<text x="465.38" y="33.1" font-size="10.66" textLength="6.21" lengthAdjust="spacingAndGlyphs" fill="#000" stroke="#000" stroke-width="0.28">h</text>
<text x="471.81" y="33.1" font-size="10.66" textLength="6.03" lengthAdjust="spacingAndGlyphs" fill="#000" stroke="#000" stroke-width="0.28">o</text>
<text x="478.21" y="33.1" font-size="10.66" textLength="2.33" lengthAdjust="spacingAndGlyphs" fill="#000" stroke="#000" stroke-width="0.28">l</text>
<text x="480.87" y="33.1" font-size="10.66" textLength="6.18" lengthAdjust="spacingAndGlyphs" fill="#000" stroke="#000" stroke-width="0.28">d</text>
<text x="439.4" y="47.6" font-size="10.66" textLength="7.75" lengthAdjust="spacingAndGlyphs" fill="#000" stroke="#000" stroke-width="0.28">G</text>
<text x="447.46" y="47.6" font-size="10.66" textLength="5.12" lengthAdjust="spacingAndGlyphs" fill="#000" stroke="#000" stroke-width="0.28">a</text>
<text x="453.65" y="47.6" font-size="10.66" textLength="6.11" lengthAdjust="spacingAndGlyphs" fill="#000" stroke="#000" stroke-width="0.28">u</text>
<text x="460.25" y="47.6" font-size="10.66" textLength="4.87" lengthAdjust="spacingAndGlyphs" fill="#000" stroke="#000" stroke-width="0.28">s</text>
<text x="465.57" y="47.6" font-size="10.66" textLength="4.87" lengthAdjust="spacingAndGlyphs" fill="#000" stroke="#000" stroke-width="0.28">s</text>
<text x="470.85" y="47.6" font-size="10.66" textLength="2.33" lengthAdjust="spacingAndGlyphs" fill="#000" stroke="#000" stroke-width="0.28">i</text>
<text x="473.64" y="47.6" font-size="10.66" textLength="5.12" lengthAdjust="spacingAndGlyphs" fill="#000" stroke="#000" stroke-width="0.28">a</text>
<text x="479.84" y="47.6" font-size="10.66" textLength="6.18" lengthAdjust="spacingAndGlyphs" fill="#000" stroke="#000" stroke-width="0.28">n</text>
<text x="486.43" y="47.6" font-size="10.66" textLength="4.87" lengthAdjust="spacingAndGlyphs" fill="#000" stroke="#000" stroke-width="0.28">s</text>
<text x="442.31" y="58.6" font-size="10.66" textLength="9.71" lengthAdjust="spacingAndGlyphs" fill="#000" stroke="#000" stroke-width="0.28">m</text>
<text x="452.38" y="58.6" font-size="10.66" textLength="2.33" lengthAdjust="spacingAndGlyphs" fill="#000" stroke="#000" stroke-width="0.28">i</text>
<text x="455.12" y="58.6" font-size="10.66" textLength="5.66" lengthAdjust="spacingAndGlyphs" fill="#000" stroke="#000" stroke-width="0.28">x</text>
<text x="461.07" y="58.6" font-size="10.66" textLength="3.78" lengthAdjust="spacingAndGlyphs" fill="#000" stroke="#000" stroke-width="0.28">t</text>
<text x="465.14" y="58.6" font-size="10.66" textLength="6.11" lengthAdjust="spacingAndGlyphs" fill="#000" stroke="#000" stroke-width="0.28">u</text>
<text x="471.49" y="58.6" font-size="10.66" textLength="4.35" lengthAdjust="spacingAndGlyphs" fill="#000" stroke="#000" stroke-width="0.28">r</text>
<text x="475.74" y="58.6" font-size="10.66" textLength="6.13" lengthAdjust="spacingAndGlyphs" fill="#000" stroke="#000" stroke-width="0.28">e</text>
<text x="442.31" y="69.9" font-size="10.66" textLength="9.71" lengthAdjust="spacingAndGlyphs" fill="#000" stroke="#000" stroke-width="0.28">m</text>
<text x="452.22" y="69.9" font-size="10.66" textLength="6.03" lengthAdjust="spacingAndGlyphs" fill="#000" stroke="#000" stroke-width="0.28">o</text>
<text x="458.45" y="69.9" font-size="10.66" textLength="6.18" lengthAdjust="spacingAndGlyphs" fill="#000" stroke="#000" stroke-width="0.28">d</text>
<text x="464.93" y="69.9" font-size="10.66" textLength="6.13" lengthAdjust="spacingAndGlyphs" fill="#000" stroke="#000" stroke-width="0.28">e</text>
<text x="471.37" y="69.9" font-size="10.66" textLength="2.33" lengthAdjust="spacingAndGlyphs" fill="#000" stroke="#000" stroke-width="0.28">l</text>
<text x="477.21" y="69.9" font-size="10.66" textLength="3.72" lengthAdjust="spacingAndGlyphs" fill="#000" stroke="#000" stroke-width="0.28">f</text>
<text x="481.04" y="69.9" font-size="10.66" textLength="2.33" lengthAdjust="spacingAndGlyphs" fill="#000" stroke="#000" stroke-width="0.28">i</text>
<text x="483.69" y="69.9" font-size="10.66" textLength="3.78" lengthAdjust="spacingAndGlyphs" fill="#000" stroke="#000" stroke-width="0.28">t</text>
<text x="439.39" y="85.3" font-size="10.66" textLength="2.33" lengthAdjust="spacingAndGlyphs" fill="#000" stroke="#000" stroke-width="0.28">i</text>
<text x="442.13" y="85.3" font-size="10.66" textLength="6.18" lengthAdjust="spacingAndGlyphs" fill="#000" stroke="#000" stroke-width="0.28">n</text>
<text x="448.46" y="85.3" font-size="10.66" textLength="3.72" lengthAdjust="spacingAndGlyphs" fill="#000" stroke="#000" stroke-width="0.28">f</text>
<text x="452.11" y="85.3" font-size="10.66" textLength="6.13" lengthAdjust="spacingAndGlyphs" fill="#000" stroke="#000" stroke-width="0.28">e</text>
<text x="458.33" y="85.3" font-size="10.66" textLength="4.35" lengthAdjust="spacingAndGlyphs" fill="#000" stroke="#000" stroke-width="0.28">r</text>
<text x="462.53" y="85.3" font-size="10.66" textLength="4.35" lengthAdjust="spacingAndGlyphs" fill="#000" stroke="#000" stroke-width="0.28">r</text>
<text x="466.6" y="85.3" font-size="10.66" textLength="6.13" lengthAdjust="spacingAndGlyphs" fill="#000" stroke="#000" stroke-width="0.28">e</text>
<text x="472.64" y="85.3" font-size="10.66" textLength="6.18" lengthAdjust="spacingAndGlyphs" fill="#000" stroke="#000" stroke-width="0.28">d</text>
<text x="442.73" y="95.9" font-size="10.66" textLength="6.13" lengthAdjust="spacingAndGlyphs" fill="#000" stroke="#000" stroke-width="0.28">e</text>
<text x="449.08" y="95.9" font-size="10.66" textLength="6.18" lengthAdjust="spacingAndGlyphs" fill="#000" stroke="#000" stroke-width="0.28">n</text>
<text x="455.47" y="95.9" font-size="10.66" textLength="6.13" lengthAdjust="spacingAndGlyphs" fill="#000" stroke="#000" stroke-width="0.28">e</text>
<text x="461.69" y="95.9" font-size="10.66" textLength="4.35" lengthAdjust="spacingAndGlyphs" fill="#000" stroke="#000" stroke-width="0.28">r</text>
<text x="465.94" y="95.9" font-size="10.66" textLength="6.18" lengthAdjust="spacingAndGlyphs" fill="#000" stroke="#000" stroke-width="0.28">g</text>
<text x="472.4" y="95.9" font-size="10.66" textLength="2.33" lengthAdjust="spacingAndGlyphs" fill="#000" stroke="#000" stroke-width="0.28">i</text>
<text x="475.07" y="95.9" font-size="10.66" textLength="6.13" lengthAdjust="spacingAndGlyphs" fill="#000" stroke="#000" stroke-width="0.28">e</text>
<text x="481.55" y="95.9" font-size="10.66" textLength="4.87" lengthAdjust="spacingAndGlyphs" fill="#000" stroke="#000" stroke-width="0.28">s</text>
<text x="153.68" y="288.47" font-size="18.51" textLength="5.35" lengthAdjust="spacingAndGlyphs" style="font-family:'Liberation Serif',serif" fill="#000" stroke="#000" stroke-width="0.1">(</text>
<text x="159.43" y="287.85" font-size="14.58" textLength="9.78" lengthAdjust="spacingAndGlyphs" style="font-family:'Liberation Serif',serif" fill="#000" stroke="#000" stroke-width="0.1">a</text>
<text x="169.45" y="288.47" font-size="18.51" textLength="4.66" lengthAdjust="spacingAndGlyphs" style="font-family:'Liberation Serif',serif" fill="#000" stroke="#000" stroke-width="0.1">)</text>
<text x="509.61" y="283.74" font-size="18.18" textLength="5.88" lengthAdjust="spacingAndGlyphs" style="font-family:'Liberation Serif',serif" fill="#000" stroke="#000" stroke-width="0.1">(</text>
<text x="516.1" y="283.24" font-size="16.03" textLength="9.51" lengthAdjust="spacingAndGlyphs" style="font-family:'Liberation Serif',serif" fill="#000" stroke="#000" stroke-width="0.1">b</text>
<text x="525.56" y="283.74" font-size="18.18" textLength="5.56" lengthAdjust="spacingAndGlyphs" style="font-family:'Liberation Serif',serif" fill="#000" stroke="#000" stroke-width="0.1">)</text>
</svg>
</body></html>
